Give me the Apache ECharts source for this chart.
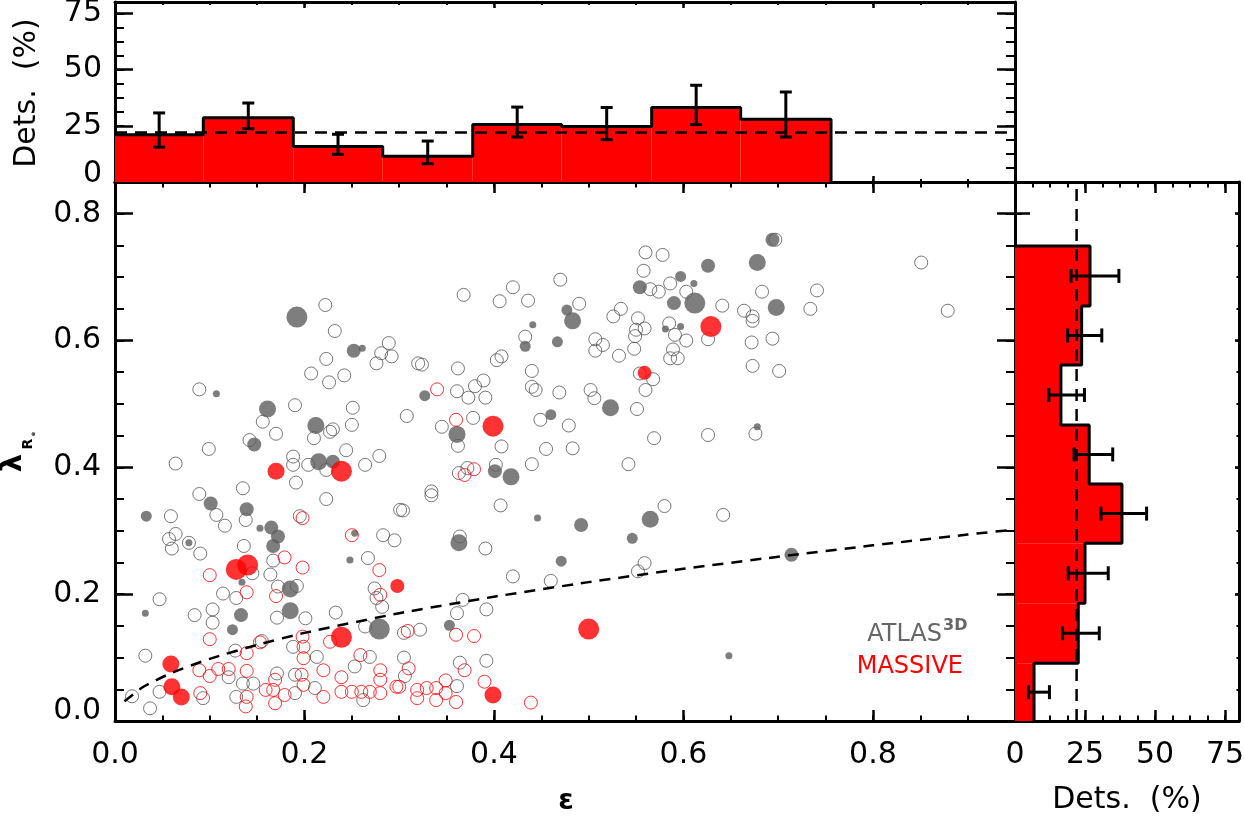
<!DOCTYPE html>
<html><head><meta charset="utf-8">
<script src="https://cdn.jsdelivr.net/npm/echarts@6/dist/echarts.min.js"></script>
<style>html,body{margin:0;padding:0;background:#fff}#c{width:1244px;height:821px}</style>
</head><body><div id="c"></div>
<script>
// ---------------- data ----------------
// ATLAS3D, no detection (open grey): [epsilon, lambda_Re]
const atlasOpen = [
[0.222,0.656],[0.232,0.615],[0.289,0.596],[0.281,0.580],[0.292,0.575],[0.276,0.564],[0.223,0.571],[0.207,0.548],[0.226,0.534],[0.242,0.545],[0.089,0.523],[0.190,0.498],[0.251,0.494],[0.156,0.472],[0.170,0.453],[0.210,0.446],[0.227,0.456],[0.230,0.460],[0.250,0.467],[0.142,0.443],[0.099,0.429],[0.244,0.427],[0.279,0.418],[0.188,0.417],[0.064,0.406],
[0.188,0.404],[0.204,0.404],[0.223,0.396],[0.264,0.404],[0.191,0.376],[0.135,0.367],[0.223,0.350],[0.089,0.358],[0.107,0.325],[0.116,0.308],[0.138,0.317],[0.059,0.323],[0.064,0.295],[0.057,0.287],[0.060,0.272],[0.078,0.281],[0.090,0.264],[0.195,0.323],[0.136,0.276],[0.167,0.253],[0.164,0.231],[0.145,0.233],[0.128,0.194],[0.114,0.201],[0.047,0.192],[0.192,0.213],[0.172,0.212],[0.171,0.163],[0.201,0.162],[0.103,0.176],[0.103,0.155],[0.084,0.167],[0.127,0.111],[0.032,0.103],[0.018,0.039],[0.037,0.020],[0.047,0.046],[0.120,0.069],[0.135,0.059],[0.146,0.059],[0.128,0.038],[0.093,0.036],[0.155,0.126],[0.171,0.075],[0.190,0.044],[0.190,0.073],[0.188,0.117],[0.211,0.052],[0.213,0.101],[0.233,0.171],[0.253,0.086],[0.262,0.033],[0.269,0.101],[0.264,0.149],[0.274,0.209],[0.276,0.194],[0.282,0.180],[0.283,0.293],[0.295,0.285],[0.267,0.257],[0.301,0.333],
[0.560,0.739],[0.578,0.735],[0.558,0.710],[0.470,0.696],[0.565,0.681],[0.574,0.677],[0.586,0.690],[0.603,0.677],[0.368,0.672],[0.420,0.684],[0.406,0.662],[0.436,0.663],[0.490,0.658],[0.534,0.650],[0.526,0.638],[0.552,0.635],[0.559,0.619],[0.550,0.617],[0.549,0.607],[0.585,0.627],[0.591,0.609],[0.603,0.600],[0.589,0.586],[0.586,0.572],[0.594,0.572],[0.507,0.602],[0.515,0.593],[0.507,0.584],[0.532,0.576],[0.548,0.587],[0.433,0.606],[0.320,0.564],[0.324,0.562],[0.362,0.556],[0.403,0.569],[0.408,0.575],[0.440,0.552],[0.389,0.537],[0.380,0.528],[0.361,0.520],[0.373,0.510],[0.391,0.510],[0.440,0.527],[0.444,0.522],[0.469,0.518],[0.502,0.522],[0.506,0.509],[0.551,0.492],[0.554,0.548],[0.568,0.539],[0.560,0.522],[0.308,0.481],[0.345,0.464],[0.378,0.478],[0.362,0.434],[0.408,0.433],[0.449,0.475],[0.479,0.466],[0.455,0.429],[0.483,0.430],[0.569,0.446],
[0.697,0.759],[0.851,0.723],[0.683,0.677],[0.741,0.679],[0.641,0.655],[0.664,0.647],[0.673,0.638],[0.673,0.631],[0.734,0.650],[0.879,0.647],[0.626,0.602],[0.672,0.597],[0.694,0.603],[0.673,0.560],[0.701,0.552],[0.676,0.453],[0.626,0.451],
[0.363,0.391],[0.372,0.399],[0.402,0.404],[0.440,0.405],[0.542,0.405],[0.334,0.362],[0.334,0.356],[0.304,0.332],[0.407,0.340],[0.580,0.339],[0.364,0.291],[0.391,0.272],[0.559,0.249],[0.552,0.236],[0.420,0.228],[0.460,0.221],[0.367,0.191],[0.361,0.170],[0.392,0.176],[0.322,0.144],[0.305,0.139],[0.305,0.100],[0.306,0.071],[0.364,0.092],[0.392,0.095],[0.361,0.055],
[0.642,0.325]
];
// ATLAS3D, detections (filled grey): [epsilon, lambda_Re, marker class 1..5]
const atlasDet = [
[0.192,0.637,5],[0.252,0.584,3],[0.261,0.588,1],[0.107,0.516,1],[0.161,0.492,4],[0.212,0.466,4],[0.147,0.436,3],[0.215,0.409,4],[0.230,0.409,3],[0.101,0.343,3],[0.139,0.334,3],[0.033,0.323,2],[0.078,0.281,1],[0.153,0.304,1],[0.165,0.305,3],[0.172,0.291,3],[0.167,0.276,3],[0.134,0.219,1],[0.185,0.208,4],[0.185,0.174,4],[0.133,0.167,3],[0.124,0.144,2],[0.279,0.145,5],[0.253,0.296,1],[0.248,0.254,1],[0.032,0.170,1],
[0.597,0.701,2],[0.554,0.684,3],[0.611,0.690,1],[0.590,0.659,3],[0.612,0.659,5],[0.477,0.648,2],[0.483,0.631,4],[0.581,0.618,1],[0.597,0.622,1],[0.441,0.625,1],[0.433,0.591,2],[0.467,0.598,2],[0.327,0.513,2],[0.523,0.494,4],[0.361,0.452,4],[0.460,0.483,2],
[0.694,0.759,3],[0.678,0.723,4],[0.626,0.718,3],[0.698,0.652,4],[0.678,0.464,1],
[0.401,0.394,3],[0.418,0.385,4],[0.446,0.320,1],[0.492,0.309,3],[0.565,0.318,4],[0.546,0.288,2],[0.363,0.281,4],[0.471,0.252,2],[0.353,0.151,2],
[0.714,0.262,3],[0.648,0.103,1]
];
// MASSIVE, no detection (open red)
const massiveOpen = [
[0.198,0.320],[0.179,0.258],[0.100,0.230],[0.139,0.203],[0.198,0.242],[0.170,0.197],[0.100,0.129],[0.089,0.080],[0.090,0.044],[0.100,0.071],[0.109,0.082],[0.120,0.082],[0.139,0.079],[0.139,0.107],[0.139,0.038],[0.138,0.023],[0.153,0.124],[0.159,0.049],[0.167,0.049],[0.169,0.065],[0.169,0.028],[0.179,0.041],[0.198,0.133],[0.199,0.117],[0.199,0.099],[0.197,0.073],[0.199,0.057],[0.220,0.038],[0.220,0.080],[0.227,0.125],[0.239,0.069],[0.239,0.046],[0.250,0.046],[0.260,0.046],[0.269,0.046],[0.259,0.104],[0.280,0.080],[0.280,0.065],[0.280,0.044],[0.280,0.199],[0.279,0.238],[0.250,0.293],[0.297,0.054],
[0.340,0.523],[0.360,0.475],[0.369,0.388],[0.379,0.397],[0.360,0.136],[0.379,0.134],[0.309,0.142],[0.310,0.083],[0.300,0.054],[0.369,0.080],[0.319,0.049],[0.319,0.036],[0.329,0.052],[0.339,0.052],[0.339,0.033],[0.349,0.064],[0.349,0.044],[0.360,0.030],[0.390,0.062],[0.439,0.029]
];
// MASSIVE, detections (filled red)
const massiveDet = [
[0.559,0.549,3],[0.629,0.622,5],[0.399,0.465,5],[0.170,0.394,4],[0.239,0.394,5],[0.128,0.239,5],[0.140,0.246,5],[0.298,0.213,3],[0.239,0.132,5],[0.500,0.145,5],[0.059,0.090,4],[0.060,0.054,4],[0.070,0.038,4],[0.399,0.041,4]
];
// fast/slow rotator boundary
const boundaryLine = [[0.010,0.031],[0.030,0.054],[0.060,0.076],[0.100,0.098],[0.150,0.120],[0.200,0.139],[0.300,0.170],[0.400,0.196],[0.500,0.219],[0.600,0.240],[0.700,0.259],[0.800,0.277],[0.900,0.294],[0.950,0.302]];

// detection fraction histograms
const epsBinEdges = [0, 0.0932, 0.1882, 0.2826, 0.3776, 0.4715, 0.5665, 0.6604, 0.7558];
const epsDetPct  = [21.0, 28.6, 15.8, 11.5, 25.6, 24.7, 33.1, 27.9];
const epsDetLow  = [15.5, 23.7, 12.3,  8.1, 20.0, 18.8, 25.5, 20.0];
const epsDetHigh = [30.7, 35.1, 21.2, 18.2, 33.3, 33.1, 43.0, 40.0];
const lamBinEdges = [0, 0.0910, 0.1856, 0.2803, 0.3738, 0.4669, 0.5615, 0.6546, 0.7492];
const lamDetPct  = [ 6.8, 22.6, 25.0, 38.2, 26.5, 16.4, 23.8, 26.8];
const lamDetLow  = [ 4.8, 17.0, 19.0, 30.7, 21.1, 12.1, 18.8, 20.0];
const lamDetHigh = [12.3, 30.1, 33.3, 47.0, 34.9, 24.8, 31.0, 37.1];
const meanDetPct = 22;

// axis tick values
const epsTicks = [0, 0.2, 0.4, 0.6, 0.8];
const lamTicks = [0, 0.2, 0.4, 0.6, 0.8];
const pctTicks = [0, 25, 50, 75];

// ---------------- chart ----------------
const FONT = 'DejaVu Sans';
const RED = '#ff0000', GREY = '#5e5e5e';
const markerPx = {1: 7, 2: 11, 3: 14, 4: 17, 5: 21};

const xAxes = [], yAxes = [];
function addAxisPair(list, grid, pos, min, max, major, minor, majLen, minLen, label) {
  const idx = list.length;
  list.push({
    type: 'value', gridIndex: grid, position: pos, min: min, max: max, interval: major,
    axisLine: {show: true, onZero: false, lineStyle: {color: '#000', width: 3}},
    axisTick: {show: majLen > 0, inside: true, length: majLen, lineStyle: {color: '#000', width: 2.5}},
    axisLabel: label ? Object.assign({show: true, color: '#000', fontFamily: FONT, fontSize: 30,
      showMaxLabel: false, showMinLabel: true, hideOverlap: false}, label) : {show: false},
    splitLine: {show: false}
  });
  list.push({
    type: 'value', gridIndex: grid, position: pos, min: min, max: max, interval: minor,
    axisLine: {show: false, onZero: false},
    axisTick: {show: true, inside: true, length: minLen, lineStyle: {color: '#000', width: 2}},
    axisLabel: {show: false}, splitLine: {show: false}
  });
  return idx;
}
const zeroRich = (pad) => ({z: {padding: [0, 0, pad, 0], fontFamily: FONT, fontSize: 30, color: '#000'}});
const fmtDec = (ticks) => (v) => {
  if (Math.abs(v) < 1e-9) return '{z|0.0}';
  return ticks.some(t => Math.abs(t - v) < 1e-6) ? v.toFixed(1) : '';
};

// main grid (0)
const mX = addAxisPair(xAxes, 0, 'bottom', 0, 0.95, 0.2, 0.05, 11, 5.5,
  {margin: 19, formatter: (v) => epsTicks.some(t => Math.abs(t - v) < 1e-6) ? v.toFixed(1) : ''});
addAxisPair(xAxes, 0, 'top', 0, 0.95, 0.2, 0.05, 11, 5.5, null);
const mY = addAxisPair(yAxes, 0, 'left', 0, 0.85, 0.2, 0.05, 18, 9,
  {margin: 14, formatter: fmtDec(lamTicks), rich: zeroRich(20)});
addAxisPair(yAxes, 0, 'right', 0, 0.85, 0.2, 0.05, 18, 9, null);
// top histogram grid (1)
const tX = addAxisPair(xAxes, 1, 'bottom', 0, 0.95, 0.2, 0.05, 6, 3, null);
addAxisPair(xAxes, 1, 'top', 0, 0.95, 0.2, 0.05, 6, 3, null);
const tY = addAxisPair(yAxes, 1, 'left', 0, 80, 25, 6.25, 18, 9,
  {margin: 13, formatter: (v) => v === 0 ? '{z|0}' : (pctTicks.indexOf(v) >= 0 ? String(v) : ''), rich: zeroRich(16)});
addAxisPair(yAxes, 1, 'right', 0, 80, 25, 6.25, 18, 9, null);
// right histogram grid (2)
const rX = addAxisPair(xAxes, 2, 'bottom', 0, 80, 25, 6.25, 11, 5.5,
  {margin: 19, formatter: (v) => pctTicks.indexOf(v) >= 0 ? String(v) : ''});
addAxisPair(xAxes, 2, 'top', 0, 80, 25, 6.25, 11, 5.5, null);
const rY = addAxisPair(yAxes, 2, 'left', 0, 0.85, 0.2, 0.05, 15, 7, null);
addAxisPair(yAxes, 2, 'right', 0, 0.85, 0.2, 0.05, 4, 2.5, null);

// histogram derived series data
const epsBars = epsDetPct.map((v, i) => [epsBinEdges[i], epsBinEdges[i + 1], v]);
const epsErr = epsDetPct.map((v, i) => [(epsBinEdges[i] + epsBinEdges[i + 1]) / 2, epsDetLow[i], epsDetHigh[i]]);
const epsOutline = [];
epsDetPct.forEach((v, i) => { epsOutline.push([epsBinEdges[i], v], [epsBinEdges[i + 1], v]); });
epsOutline.push([epsBinEdges[epsBinEdges.length - 1], 0]);

const lamBars = lamDetPct.map((v, i) => [lamBinEdges[i], lamBinEdges[i + 1], v]);
const lamErr = lamDetPct.map((v, i) => [(lamBinEdges[i] + lamBinEdges[i + 1]) / 2, lamDetLow[i], lamDetHigh[i]]);
const lamOutline = [[0, lamBinEdges[lamBinEdges.length - 1]]];
for (let i = lamDetPct.length - 1; i >= 0; i--) {
  lamOutline.push([lamDetPct[i], lamBinEdges[i + 1]], [lamDetPct[i], lamBinEdges[i]]);
}

const blackLine = {stroke: '#000', lineWidth: 3};

const series = [
  // ---- top histogram ----
  {type: 'custom', xAxisIndex: tX, yAxisIndex: tY, data: epsBars, encode: {x: [0, 1], y: 2}, z: 2,
    renderItem: (p, api) => {
      const a = api.coord([api.value(0), api.value(2)]), b = api.coord([api.value(1), 0]);
      return {type: 'rect', shape: {x: a[0], y: a[1], width: b[0] - a[0], height: b[1] - a[1]}, style: {fill: RED}};
    }},
  {type: 'line', xAxisIndex: tX, yAxisIndex: tY, data: [[0, meanDetPct], [0.95, meanDetPct]], symbol: 'none', z: 3,
    lineStyle: {color: '#000', width: 2.5, type: [12, 8]}},
  {type: 'line', xAxisIndex: tX, yAxisIndex: tY, data: epsOutline, symbol: 'none', z: 4,
    lineStyle: {color: '#000', width: 3}},
  {type: 'custom', xAxisIndex: tX, yAxisIndex: tY, data: epsErr, encode: {x: 0, y: [1, 2]}, z: 5,
    renderItem: (p, api) => {
      const a = api.coord([api.value(0), api.value(2)]), b = api.coord([api.value(0), api.value(1)]), w = 6;
      return {type: 'group', children: [
        {type: 'line', shape: {x1: a[0], y1: a[1], x2: b[0], y2: b[1]}, style: blackLine},
        {type: 'line', shape: {x1: a[0] - w, y1: a[1], x2: a[0] + w, y2: a[1]}, style: blackLine},
        {type: 'line', shape: {x1: b[0] - w, y1: b[1], x2: b[0] + w, y2: b[1]}, style: blackLine}]};
    }},
  // ---- right histogram ----
  {type: 'custom', xAxisIndex: rX, yAxisIndex: rY, data: lamBars, encode: {y: [0, 1], x: 2}, z: 2,
    renderItem: (p, api) => {
      const a = api.coord([0, api.value(1)]), b = api.coord([api.value(2), api.value(0)]);
      return {type: 'rect', shape: {x: a[0], y: a[1], width: b[0] - a[0], height: b[1] - a[1]}, style: {fill: RED}};
    }},
  {type: 'line', xAxisIndex: rX, yAxisIndex: rY, data: [[meanDetPct, 0], [meanDetPct, 0.85]], symbol: 'none', z: 3,
    lineStyle: {color: '#000', width: 2.5, type: [12, 8]}},
  {type: 'line', xAxisIndex: rX, yAxisIndex: rY, data: lamOutline, symbol: 'none', z: 4,
    lineStyle: {color: '#000', width: 3}},
  {type: 'custom', xAxisIndex: rX, yAxisIndex: rY, data: lamErr, encode: {y: 0, x: [1, 2]}, z: 5,
    renderItem: (p, api) => {
      const a = api.coord([api.value(1), api.value(0)]), b = api.coord([api.value(2), api.value(0)]), h = 7;
      return {type: 'group', children: [
        {type: 'line', shape: {x1: a[0], y1: a[1], x2: b[0], y2: b[1]}, style: blackLine},
        {type: 'line', shape: {x1: a[0], y1: a[1] - h, x2: a[0], y2: a[1] + h}, style: blackLine},
        {type: 'line', shape: {x1: b[0], y1: b[1] - h, x2: b[0], y2: b[1] + h}, style: blackLine}]};
    }},
  // ---- main scatter ----
  {type: 'scatter', xAxisIndex: mX, yAxisIndex: mY, data: atlasOpen, symbol: 'circle', symbolSize: 13, z: 2,
    itemStyle: {color: 'rgba(0,0,0,0)', borderColor: '#555', borderWidth: 1}},
  {type: 'scatter', xAxisIndex: mX, yAxisIndex: mY, data: atlasDet, symbol: 'circle', z: 3,
    symbolSize: (v) => markerPx[v[2]], itemStyle: {color: GREY}},
  {type: 'scatter', xAxisIndex: mX, yAxisIndex: mY, data: massiveOpen, symbol: 'circle', symbolSize: 13, z: 4,
    itemStyle: {color: 'rgba(0,0,0,0)', borderColor: RED, borderWidth: 1}},
  {type: 'scatter', xAxisIndex: mX, yAxisIndex: mY, data: massiveDet, symbol: 'circle', z: 5,
    symbolSize: (v) => markerPx[v[2]], itemStyle: {color: RED}},
  {type: 'line', xAxisIndex: mX, yAxisIndex: mY, data: boundaryLine, symbol: 'none', smooth: 0.2, z: 6,
    lineStyle: {color: '#000', width: 2.5, type: [11, 8]}}
];

const txt = (s) => Object.assign({fill: '#000', fontFamily: FONT, align: 'center', verticalAlign: 'middle',
  textAlign: 'center', textVerticalAlign: 'middle'}, s);

const graphic = [
  {type: 'text', x: 27, y: 93, rotation: Math.PI / 2, style: txt({text: 'Dets.  (%)', fontSize: 30})},
  {type: 'text', x: 1127, y: 800, style: txt({text: 'Dets.  (%)', fontSize: 30})},
  {type: 'text', x: 566, y: 802, style: txt({text: 'ε', fontSize: 28, fontWeight: 'bold'})},
  {type: 'group', x: 13, y: 463, rotation: Math.PI / 2, children: [
    {type: 'text', x: 0, y: 0, style: txt({text: 'λ', fontSize: 29, fontWeight: 'bold'})},
    {type: 'text', x: 19, y: 15, style: txt({text: 'R', fontSize: 14, fontWeight: 'bold'})},
    {type: 'text', x: 29, y: 20, style: txt({text: 'e', fontSize: 6, fontWeight: 'bold'})}
  ]},
  {type: 'text', x: 942, y: 635, style: txt({text: 'ATLAS', fontSize: 24, fill: '#666', align: 'right', textAlign: 'right'})},
  {type: 'text', x: 943, y: 626, style: txt({text: '3D', fontSize: 16, fontWeight: 'bold', fill: '#666', align: 'left', textAlign: 'left'})},
  {type: 'text', x: 963, y: 667, style: txt({text: 'MASSIVE', fontSize: 24, fill: RED, align: 'right', textAlign: 'right'})}
];

const gridBase = {containLabel: false, outerBoundsMode: 'none', show: false};
const chart = echarts.init(document.getElementById('c'), null, {renderer: 'canvas'});
chart.setOption({
  animation: false,
  backgroundColor: '#fff',
  grid: [
    Object.assign({left: 115, top: 182, width: 900, height: 539}, gridBase),
    Object.assign({left: 115, top: 2, width: 900, height: 180}, gridBase),
    Object.assign({left: 1015, top: 182, width: 224, height: 539}, gridBase)
  ],
  xAxis: xAxes,
  yAxis: yAxes,
  series: series,
  graphic: graphic
});
</script>
</body></html>
